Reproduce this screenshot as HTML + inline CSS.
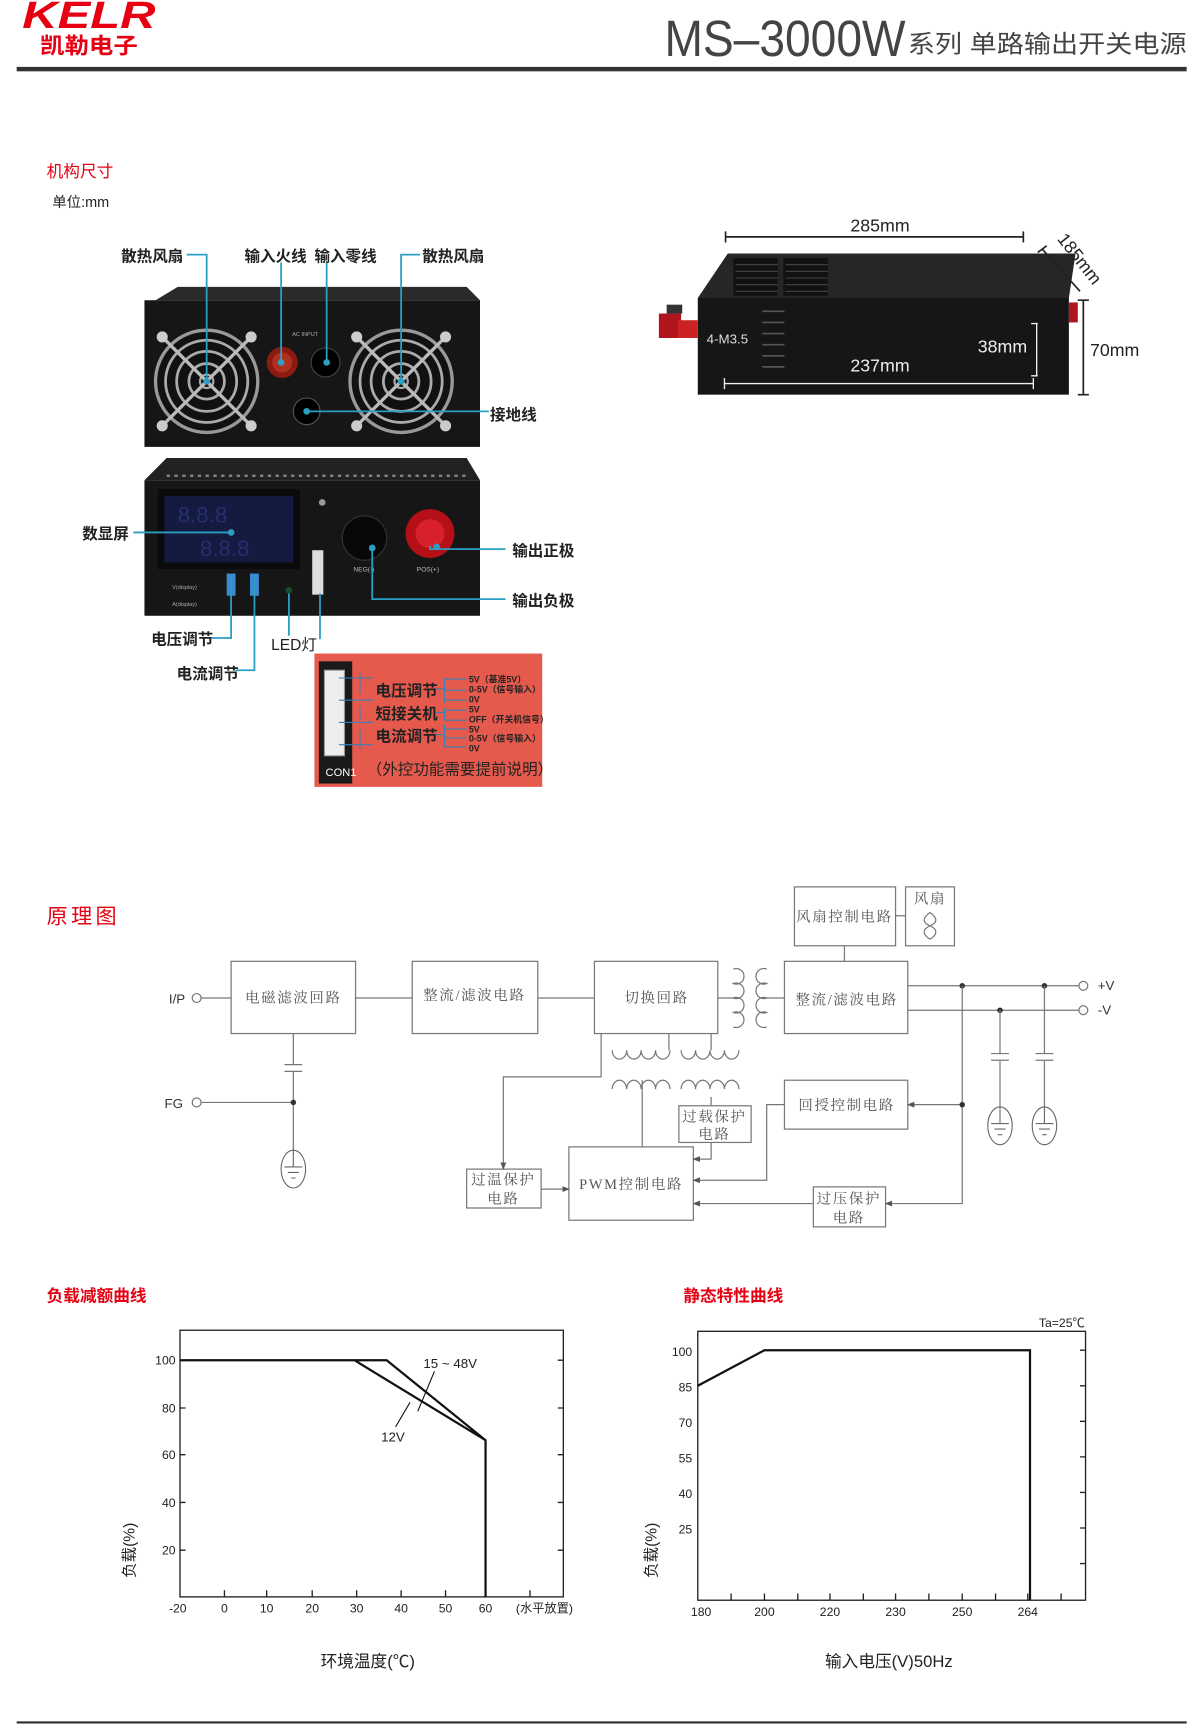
<!DOCTYPE html>
<html><head><meta charset="utf-8"><style>
html,body{margin:0;padding:0;background:#fff;}
svg{display:block;}
text{font-family:"Liberation Sans","Noto Sans CJK SC",sans-serif;}
.s{font-family:"Liberation Serif","Noto Serif CJK SC",serif;fill:#555;font-size:13px;letter-spacing:1.5px;}
.b{fill:#fff;stroke:#777;stroke-width:1.1;}
.l{stroke:#777;stroke-width:1.1;fill:none;}
.lab{font-size:14px;font-weight:bold;fill:#222;}
.cy{stroke:#2a9fc4;stroke-width:1.6;fill:none;}
.ax{font-size:11px;fill:#222;}
</style></head><body>
<svg width="1200" height="1736" viewBox="0 0 1080 1562" xmlns="http://www.w3.org/2000/svg">
<defs>
<marker id="ar" viewBox="0 0 10 10" refX="9" refY="5" markerWidth="6" markerHeight="6" orient="auto"><path d="M0,1 L10,5 L0,9z" fill="#555"/></marker>
<g id="fan">
<circle r="46" fill="#111" stroke="#999" stroke-width="3"/>
<circle r="37" fill="none" stroke="#aaa" stroke-width="2.5"/>
<circle r="27" fill="none" stroke="#aaa" stroke-width="2.5"/>
<circle r="16" fill="none" stroke="#aaa" stroke-width="2.5"/>
<circle r="6" fill="none" stroke="#aaa" stroke-width="2"/>
<path d="M-40,-40 L40,40 M40,-40 L-40,40" stroke="#bbb" stroke-width="3"/>
<circle cx="-40" cy="-40" r="5" fill="#ccc"/><circle cx="40" cy="-40" r="5" fill="#ccc"/>
<circle cx="-40" cy="40" r="5" fill="#ccc"/><circle cx="40" cy="40" r="5" fill="#ccc"/>
</g>
<g id="gnd"><ellipse rx="11" ry="17" fill="#fff" stroke="#666" stroke-width="1"/><path d="M-8,-2 H8 M-5,3 H5 M-2,8 H2 M0,-17 V-2" stroke="#666" stroke-width="1"/></g>
</defs>

<!-- header -->
<text x="20" y="25" font-size="34" font-weight="bold" font-style="italic" fill="#e60012" textLength="120" lengthAdjust="spacingAndGlyphs">KELR</text>
<text x="36" y="48" font-size="20" font-weight="bold" fill="#e60012" textLength="88" lengthAdjust="spacingAndGlyphs">凯勒电子</text>
<text x="598" y="50" font-size="46" fill="#444" textLength="217" lengthAdjust="spacingAndGlyphs">MS–3000W</text>
<text x="817" y="47" font-size="22" fill="#444" textLength="251" lengthAdjust="spacingAndGlyphs">系列 单路输出开关电源</text>
<rect x="15" y="60" width="1053" height="4" fill="#333"/>

<text x="42" y="159" font-size="15" fill="#e60012">机构尺寸</text>
<text x="47" y="186" font-size="13" fill="#222">单位:mm</text>

<!-- top device (rear) -->
<path d="M140,270 L160,258 L420,258 L432,270z" fill="#2a2a2a"/>
<rect x="130" y="270" width="302" height="132" fill="#161616"/>
<use href="#fan" x="186" y="343"/>
<use href="#fan" x="361" y="343"/>
<circle cx="254" cy="326" r="14" fill="#8b1a10"/><circle cx="254" cy="326" r="9" fill="#b0301f"/>
<circle cx="293" cy="326" r="13" fill="#000" stroke="#444"/>
<circle cx="276" cy="370" r="12" fill="#000" stroke="#555"/>
<text x="263" y="302" font-size="5" fill="#aaa">AC INPUT</text>
<path class="cy" d="M168,229 H186 V343 M253,236 V326 M294,236 V326 M378,229 H361 V343 M276,370 H440"/>
<circle cx="186" cy="343" r="3" fill="#2a9fc4"/><circle cx="361" cy="343" r="3" fill="#2a9fc4"/>
<circle cx="253" cy="326" r="3" fill="#2a9fc4"/><circle cx="294" cy="326" r="3" fill="#2a9fc4"/><circle cx="276" cy="370" r="3" fill="#2a9fc4"/>
<text x="109" y="235" class="lab">散热风扇</text>
<text x="220" y="235" class="lab">输入火线</text>
<text x="283" y="235" class="lab">输入零线</text>
<text x="380" y="235" class="lab">散热风扇</text>
<text x="441" y="378" class="lab">接地线</text>

<!-- bottom device (front) -->
<path d="M130,432 L150,412 L420,412 L432,432z" fill="#222"/>
<path d="M150,428 h270" stroke="#888" stroke-width="2" stroke-dasharray="3,4"/>
<rect x="130" y="432" width="302" height="122" fill="#161616"/>
<rect x="142" y="440" width="128" height="72" fill="#0b0b0b"/>
<rect x="148" y="446" width="116" height="60" fill="#141a40"/>
<text x="160" y="470" font-size="20" fill="#24306e">8.8.8</text>
<text x="180" y="500" font-size="20" fill="#24306e">8.8.8</text>
<circle cx="328" cy="484" r="20" fill="#080808" stroke="#333"/>
<circle cx="387" cy="480" r="22" fill="#b51018"/><circle cx="387" cy="480" r="13" fill="#d8202a"/>
<rect x="204" y="516" width="8" height="20" fill="#3a8ad0"/><rect x="225" y="516" width="8" height="20" fill="#3a8ad0"/>
<circle cx="260" cy="531" r="3" fill="#1a4a2a"/>
<rect x="281" y="495" width="10" height="40" fill="#ddd"/>
<circle cx="290" cy="452" r="3" fill="#999"/>
<text x="155" y="530" font-size="5" fill="#aaa">V(display)</text><text x="155" y="545" font-size="5" fill="#aaa">A(display)</text>
<text x="318" y="514" font-size="6" fill="#bbb">NEG(-)</text><text x="375" y="514" font-size="6" fill="#bbb">POS(+)</text>
<path class="cy" d="M120,479 H208 M387,491 V494 H455 M335,493 V539 H455 M208,522 V574 H190 M229,522 V603 H212 M260,534 V572 M288,534 V575"/>
<circle cx="208" cy="479" r="3" fill="#2a9fc4"/><circle cx="393" cy="492" r="3" fill="#2a9fc4"/><circle cx="335" cy="493" r="3" fill="#2a9fc4"/>
<text x="74" y="485" class="lab">数显屏</text>
<text x="461" y="500" class="lab">输出正极</text>
<text x="461" y="545" class="lab">输出负极</text>
<text x="136" y="580" class="lab">电压调节</text>
<text x="159" y="611" class="lab">电流调节</text>
<text x="244" y="585" font-size="14" fill="#222">LED灯</text>

<!-- red panel -->
<rect x="283" y="588" width="205" height="120" fill="#e65a4e"/>
<rect x="287" y="595" width="30" height="110" fill="#1a1a1a"/>
<rect x="292" y="603" width="18" height="77" fill="#eee" stroke="#999"/>
<text x="293" y="698" font-size="10" fill="#fff">CON1</text>
<g stroke="#3a7fb5" stroke-width="1" fill="none"><path d="M305,610 H336 M305,630 H336 M305,650 H336 M305,670 H336 M324,606 V624 M324,636 V648 M324,656 V674 M390,620 H400 M390,641 H400 M390,661 H400 M400,610 V632 M400,637 V648 M400,652 V672 M400,611 H420 M400,621 H420 M400,630 H420 M400,639 H420 M400,648 H420 M400,656 H420 M400,664 H420 M400,672 H420"/></g>
<text x="338" y="626" font-size="14" font-weight="bold" fill="#222">电压调节</text>
<text x="338" y="647" font-size="14" font-weight="bold" fill="#222">短接关机</text>
<text x="338" y="667" font-size="14" font-weight="bold" fill="#222">电流调节</text>
<g font-size="8" font-weight="bold" fill="#222">
<text x="422" y="614">5V（基准5V）</text><text x="422" y="623">0-5V（信号输入）</text><text x="422" y="632">0V</text>
<text x="422" y="641">5V</text><text x="422" y="650">OFF（开关机信号）</text>
<text x="422" y="659">5V</text><text x="422" y="667">0-5V（信号输入）</text><text x="422" y="676">0V</text>
</g>
<text x="330" y="697" font-size="14" fill="#222">（外控功能需要提前说明）</text>

<!-- right device -->
<path d="M628,268 L655,228 L968,228 L962,268z" fill="#262626"/>
<g fill="#111"><rect x="660" y="232" width="40" height="34"/><rect x="705" y="232" width="40" height="34"/></g>
<g stroke="#444" stroke-width="1"><path d="M662,238 h38 M662,244 h38 M662,250 h38 M662,256 h38 M662,262 h38 M707,238 h38 M707,244 h38 M707,250 h38 M707,256 h38 M707,262 h38"/></g>
<rect x="628" y="268" width="334" height="87" fill="#161616"/>
<g stroke="#555" stroke-width="1.5"><path d="M686,280 h20 M686,290 h20 M686,300 h20 M686,310 h20 M686,320 h20 M686,330 h20"/></g>
<rect x="593" y="282" width="20" height="22" fill="#b0151e"/><rect x="610" y="288" width="18" height="16" fill="#c22"/>
<rect x="600" y="274" width="14" height="8" fill="#333"/>
<rect x="962" y="272" width="8" height="18" fill="#b0151e"/>
<text x="636" y="309" font-size="12" fill="#ddd" font-family="Liberation Serif,serif">4-M3.5</text>
<path d="M653,213 H921 M653,208 V218 M921,208 V218" stroke="#222" stroke-width="1.5"/>
<text x="792" y="208" font-size="16" fill="#222" text-anchor="middle">285mm</text>
<path d="M938,224 L972,262 M934,227 L942,221" stroke="#222" stroke-width="1.5"/>
<text x="951" y="215" font-size="16" fill="#222" transform="rotate(52 951 215)">185mm</text>
<path d="M975,270 V355 M970,270 H980 M970,355 H980" stroke="#222" stroke-width="1.5"/>
<text x="981" y="320" font-size="16" fill="#222">70mm</text>
<path d="M933,291 V338 M928,291 H934 M928,338 H934" stroke="#eee" stroke-width="1.2"/>
<text x="880" y="317" font-size="16" fill="#eee">38mm</text>
<path d="M652,345 H930 M652,340 V350 M930,340 V350" stroke="#eee" stroke-width="1.2"/>
<text x="792" y="334" font-size="16" fill="#eee" text-anchor="middle">237mm</text>

<!-- schematic -->
<text x="42" y="831" font-size="19" fill="#e60012" font-family="Liberation Serif,'Noto Serif CJK SC',serif" letter-spacing="3">原理图</text>
<rect class="b" x="715" y="798" width="91" height="53"/><text class="s" x="760" y="829" text-anchor="middle">风扇控制电路</text>
<rect class="b" x="815" y="798" width="44" height="53"/><text class="s" x="837" y="813" text-anchor="middle">风扇</text>
<path class="l" d="M837,821 C830,826 830,830 837,833 C844,836 844,841 837,845 C830,841 830,836 837,833 C844,830 844,826 837,821z"/>
<path class="l" d="M806,824 H815 M760,851 V865"/>
<rect class="b" x="208" y="865" width="112" height="65"/><text class="s" x="264" y="902" text-anchor="middle">电磁滤波回路</text>
<rect class="b" x="371" y="865" width="113" height="65"/><text class="s" x="427" y="900" text-anchor="middle">整流/滤波电路</text>
<rect class="b" x="535" y="865" width="111" height="65"/><text class="s" x="591" y="902" text-anchor="middle">切换回路</text>
<rect class="b" x="706" y="865" width="111" height="65"/><text class="s" x="762" y="904" text-anchor="middle">整流/滤波电路</text>
<text x="152" y="903" font-size="12" fill="#333">I/P</text><circle cx="177" cy="898" r="4" class="b"/>
<text x="148" y="997" font-size="12" fill="#333">FG</text><circle cx="177" cy="992" r="4" class="b"/>
<path class="l" d="M181,898 H208 M320,898 H371 M484,898 H535 M646,898 H662 M686,898 H706"/>
<path class="l" d="M660,872 a7,7 0 1 1 0,13 a7,7 0 1 1 0,13 a7,7 0 1 1 0,13 a7,7 0 1 1 0,13"/>
<path class="l" d="M690,872 a7,7 0 1 0 0,13 a7,7 0 1 0 0,13 a7,7 0 1 0 0,13 a7,7 0 1 0 0,13"/>
<path class="l" d="M817,887 H971 M817,909 H971"/>
<circle cx="975" cy="887" r="4" class="b"/><circle cx="975" cy="909" r="4" class="b"/>
<text x="988" y="891" font-size="12" fill="#333">+V</text><text x="988" y="913" font-size="12" fill="#333">-V</text>
<circle cx="866" cy="887" r="2.5" fill="#333"/><circle cx="940" cy="887" r="2.5" fill="#333"/><circle cx="900" cy="909" r="2.5" fill="#333"/>
<path class="l" d="M900,909 V948 M892,948 H908 M892,954 H908 M900,954 V996 M940,887 V948 M932,948 H948 M932,954 H948 M940,954 V996"/>
<use href="#gnd" x="900" y="1013"/><use href="#gnd" x="940" y="1013"/>
<path class="l" d="M264,930 V958 M256,958 H272 M256,964 H272 M264,964 V1035 M181,992 H264"/>
<circle cx="264" cy="992" r="2.5" fill="#333"/>
<use href="#gnd" x="264" y="1052"/>
<path class="l" d="M551,945 a6.5,8 0 0 0 13,0 a6.5,8 0 0 0 13,0 a6.5,8 0 0 0 13,0 a6.5,8 0 0 0 13,0 M613,945 a6.5,8 0 0 0 13,0 a6.5,8 0 0 0 13,0 a6.5,8 0 0 0 13,0 a6.5,8 0 0 0 13,0"/>
<path class="l" d="M551,980 a6.5,8 0 0 1 13,0 a6.5,8 0 0 1 13,0 a6.5,8 0 0 1 13,0 a6.5,8 0 0 1 13,0 M613,980 a6.5,8 0 0 1 13,0 a6.5,8 0 0 1 13,0 a6.5,8 0 0 1 13,0 a6.5,8 0 0 1 13,0"/>
<path class="l" d="M602,930 V945 M640,930 V945"/>
<rect class="b" x="706" y="972" width="111" height="44"/><text class="s" x="762" y="999" text-anchor="middle">回授控制电路</text>
<rect class="b" x="611" y="995" width="65" height="33"/><text class="s" x="643" y="1009" text-anchor="middle">过载保护</text><text class="s" x="643" y="1025" text-anchor="middle">电路</text>
<rect class="b" x="420" y="1052" width="67" height="35"/><text class="s" x="453" y="1066" text-anchor="middle">过温保护</text><text class="s" x="453" y="1083" text-anchor="middle">电路</text>
<rect class="b" x="512" y="1032" width="112" height="66"/><text class="s" x="568" y="1070" text-anchor="middle">PWM控制电路</text>
<rect class="b" x="732" y="1068" width="65" height="36"/><text class="s" x="764" y="1083" text-anchor="middle">过压保护</text><text class="s" x="764" y="1100" text-anchor="middle">电路</text>
<path class="l" d="M541,930 V969 H453 V1052" marker-end="url(#ar)"/>
<path class="l" d="M578,972 V1032"/>
<path class="l" d="M640,987 V995"/>
<path class="l" d="M640,1028 V1043 H624" marker-end="url(#ar)"/>
<path class="l" d="M706,994 H690 V1062 H624" marker-end="url(#ar)"/>
<path class="l" d="M487,1070 H512" marker-end="url(#ar)"/>
<path class="l" d="M732,1083 H624" marker-end="url(#ar)"/>
<path class="l" d="M866,887 V1083 H797" marker-end="url(#ar)"/>
<path class="l" d="M866,994 H817" marker-end="url(#ar)"/>
<circle cx="866" cy="994" r="2.5" fill="#333"/>

<text x="42" y="1171" font-size="15" font-weight="bold" fill="#e60012">负载减额曲线</text>
<text x="615" y="1171" font-size="15" font-weight="bold" fill="#e60012">静态特性曲线</text>

<!-- chart 1 -->
<rect x="162" y="1197" width="345" height="240" fill="none" stroke="#222" stroke-width="1.2"/>
<g stroke="#222" stroke-width="1.2">
<path d="M502,1224 H507 M502,1267 H507 M502,1309 H507 M502,1352 H507 M502,1395 H507 M162,1224 H167 M162,1267 H167 M162,1309 H167 M162,1352 H167 M162,1395 H167"/>
<path d="M202,1431 V1437 M240,1431 V1437 M281,1431 V1437 M321,1431 V1437 M361,1431 V1437 M401,1431 V1437 M437,1431 V1437 M477,1431 V1437"/>
</g>
<path d="M162,1224 H348 L437,1296 V1437 M319,1224 L437,1296" fill="none" stroke="#111" stroke-width="2"/>
<path d="M391,1234 L376,1270 M369,1262 L356,1284" stroke="#111" stroke-width="1"/>
<text x="381" y="1231" font-size="12" fill="#222">15 ~ 48V</text>
<text x="343" y="1297" font-size="12" fill="#222">12V</text>
<g class="ax" text-anchor="end"><text x="158" y="1228">100</text><text x="158" y="1271">80</text><text x="158" y="1313">60</text><text x="158" y="1356">40</text><text x="158" y="1399">20</text></g>
<g class="ax" text-anchor="middle"><text x="160" y="1451">-20</text><text x="202" y="1451">0</text><text x="240" y="1451">10</text><text x="281" y="1451">20</text><text x="321" y="1451">30</text><text x="361" y="1451">40</text><text x="401" y="1451">50</text><text x="437" y="1451">60</text><text x="490" y="1451">(水平放置)</text></g>
<text x="0" y="0" font-size="14" fill="#222" transform="translate(121,1420) rotate(-90)">负载(%)</text>
<text x="331" y="1500" font-size="15" fill="#222" text-anchor="middle">环境温度(℃)</text>

<!-- chart 2 -->
<rect x="628" y="1198" width="349" height="242" fill="none" stroke="#222" stroke-width="1.2"/>
<g stroke="#222" stroke-width="1.2">
<path d="M972,1215 H977 M972,1247 H977 M972,1279 H977 M972,1311 H977 M972,1343 H977 M972,1375 H977 M972,1407 H977"/>
<path d="M658,1434 V1440 M688,1434 V1440 M718,1434 V1440 M747,1434 V1440 M777,1434 V1440 M806,1434 V1440 M836,1434 V1440 M866,1434 V1440 M896,1434 V1440 M925,1434 V1440 M955,1434 V1440"/>
</g>
<path d="M628,1247 L688,1215 H927 V1440" fill="none" stroke="#111" stroke-width="2"/>
<text x="935" y="1194" font-size="11" fill="#222">Ta=25℃</text>
<g class="ax" text-anchor="end"><text x="623" y="1220">100</text><text x="623" y="1252">85</text><text x="623" y="1284">70</text><text x="623" y="1316">55</text><text x="623" y="1348">40</text><text x="623" y="1380">25</text></g>
<g class="ax" text-anchor="middle"><text x="631" y="1454">180</text><text x="688" y="1454">200</text><text x="747" y="1454">220</text><text x="806" y="1454">230</text><text x="866" y="1454">250</text><text x="925" y="1454">264</text></g>
<text x="0" y="0" font-size="14" fill="#222" transform="translate(591,1420) rotate(-90)">负载(%)</text>
<text x="800" y="1500" font-size="15" fill="#222" text-anchor="middle">输入电压(V)50Hz</text>

<rect x="15" y="1549" width="1053" height="2" fill="#333"/>
</svg>
</body></html>
